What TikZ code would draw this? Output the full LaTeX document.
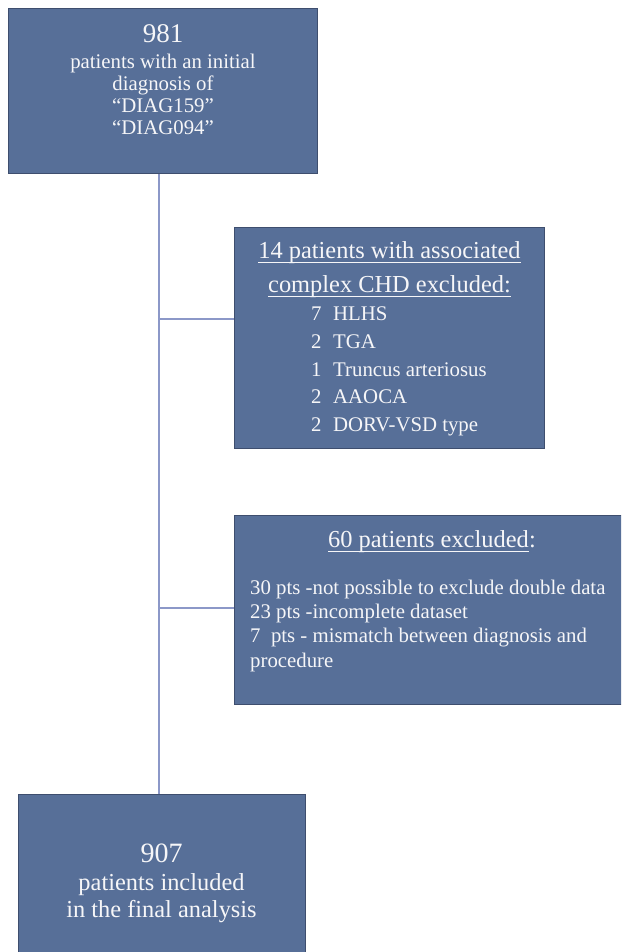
\documentclass[tikz,border=0pt]{standalone}
\usepackage{fontspec}
\setmainfont{Liberation Serif}
\definecolor{boxfill}{RGB}{87,111,152}
\definecolor{boxline}{RGB}{62,78,110}
\definecolor{conn}{RGB}{140,152,200}
\definecolor{txtc}{RGB}{246,246,248}
\begin{document}
\begin{tikzpicture}[x=1pt,y=-1pt,
  box/.style={draw=boxline, fill=boxfill, line width=1pt, inner sep=0pt, anchor=north west},
  txt/.style={text=txtc, inner sep=0pt, anchor=base, font=\fontsize{20.8}{24}\selectfont},
  txtl/.style={txt, anchor=base west},
  big/.style={txt, font=\fontsize{27}{32}\selectfont},
  head/.style={txt, font=\fontsize{24.4}{28}\selectfont},
  ul/.style={draw=txtc, line width=0.9pt},
  conn/.style={draw=conn, line width=1.4pt}]
\useasboundingbox (0,0) rectangle (621,952);
\clip (0,0) rectangle (621,952);
\fill[white] (0,0) rectangle (621,952);
% boxes
\node[box, minimum width=309pt, minimum height=165pt] (b1) at (8,8) {};
\node[box, draw=none, minimum width=420pt, minimum height=188pt] (b3) at (234,515) {};
\draw[boxline, line width=1pt] (b3.north east) -- (b3.north west) -- (b3.south west) -- (b3.south east);
\node[box, minimum width=310pt, minimum height=221pt] (b2) at (234,227) {};
\node[box, minimum width=287pt, minimum height=175pt] (b4) at (18,794) {};
% connectors
\coordinate (tx) at (159,0);
\coordinate (j2) at (159,319);
\coordinate (j3) at (159,608);
\draw[conn] (b1.south -| tx) -- (b4.north -| tx);
\draw[conn] (j2) -- (j2 -| b2.west);
\draw[conn] (j3) -- (j3 -| b3.west);
% box 1 text
\node[big] (t1a) at (163,43) {981};
\node[txt] (t1b) at (163,69) {patients with an initial};
\node[txt] (t1c) at (163,91) {diagnosis of};
\node[txt] (t1d) at (163,113) {“DIAG159”};
\node[txt] (t1e) at (163,135) {“DIAG094”};
% box 2 text
\node[head] (t2a) at (389.5,258) {14 patients with associated};
\node[head] (t2b) at (389.5,292) {complex CHD excluded:};
\draw[ul] ([yshift=-4pt]t2a.base west) -- ([yshift=-4pt]t2a.base east);
\draw[ul] ([yshift=-4pt]t2b.base west) -- ([yshift=-4pt]t2b.base east);
\node[txtl] (n1) at (311,320) {7};
\node[txtl] (n2) at (311,348) {2};
\node[txtl] (n3) at (311,376) {1};
\node[txtl] (n4) at (311,403) {2};
\node[txtl] (n5) at (311,431) {2};
\node[txtl] (i1) at (333,320) {HLHS};
\node[txtl] (i2) at (333,348) {TGA};
\node[txtl] (i3) at (333,376) {Truncus arteriosus};
\node[txtl] (i4) at (333,403) {AAOCA};
\node[txtl] (i5) at (333,431) {DORV-VSD type};
% box 3 text
\node[head, anchor=base west] (t3a) at (328,547) {60 patients excluded};
\node[head, anchor=base west] (t3colon) at (t3a.base east) {:};
\draw[ul] ([yshift=-4pt]t3a.base west) -- ([yshift=-4pt]t3a.base east);
\node[txtl] (t3b) at (250,594) {30 pts -not possible to exclude double data};
\node[txtl] (t3c) at (250,618) {23 pts -incomplete dataset};
\node[txtl] (t3d) at (250,642) {7\ \ pts - mismatch between diagnosis and};
\node[txtl] (t3e) at (250,667) {procedure};
% box 4 text
\node[big, font=\fontsize{28}{32}\selectfont] (t4a) at (161.5,862) {907};
\node[head] (t4b) at (161.5,890) {patients included};
\node[head] (t4c) at (161.5,917) {in the final analysis};
\end{tikzpicture}
\end{document}
